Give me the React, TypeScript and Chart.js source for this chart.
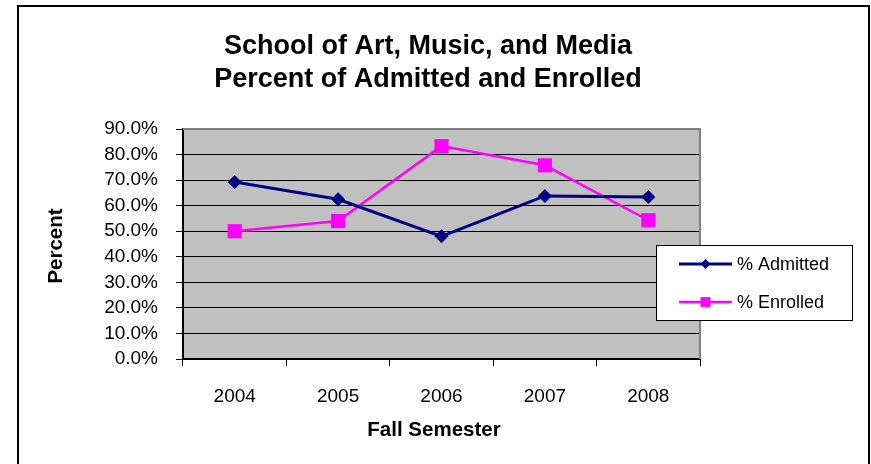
import React, { useEffect, useRef } from "react";
import { Chart, registerables } from "chart.js";

Chart.register(...registerables);

const categories = ["2004", "2005", "2006", "2007", "2008"];
const admitted = [69.3, 62.5, 48.0, 63.8, 63.4];
const enrolled = [50.0, 54.0, 83.3, 75.8, 54.3];
const titleLines = ["School of Art, Music, and Media", "Percent of Admitted and Enrolled"];
const xTitle = "Fall Semester";
const yTitle = "Percent";
const seriesNames = ["% Admitted", "% Enrolled"];

const NAVY = "#000080";
const MAGENTA = "#FF00FF";
const FONT = "'Liberation Sans', Arial, sans-serif";

function drawMarker(ctx: CanvasRenderingContext2D, style: string, x: number, y: number, r: number, color: string) {
  ctx.save();
  ctx.fillStyle = color;
  ctx.beginPath();
  if (style === "rectRot") {
    ctx.moveTo(x - r, y);
    ctx.lineTo(x, y - r);
    ctx.lineTo(x + r, y);
    ctx.lineTo(x, y + r);
    ctx.closePath();
  } else {
    const s = r * Math.SQRT1_2;
    ctx.rect(x - s, y - s, 2 * s, 2 * s);
  }
  ctx.fill();
  ctx.restore();
}

const decorPlugin = {
  id: "decor",
  beforeDraw(chart: any) {
    const { ctx, chartArea } = chart;
    ctx.save();
    ctx.fillStyle = "#ffffff";
    ctx.fillRect(0, 0, chart.width, chart.height);
    ctx.fillStyle = "#C0C0C0";
    ctx.fillRect(chartArea.left, chartArea.top, chartArea.right - chartArea.left, chartArea.bottom - chartArea.top);
    ctx.restore();
  },
  beforeDatasetsDraw(chart: any) {
    const { ctx, chartArea } = chart;
    ctx.save();
    ctx.strokeStyle = "#808080";
    ctx.lineWidth = 2;
    ctx.beginPath();
    ctx.moveTo(chartArea.left, chartArea.top);
    ctx.lineTo(chartArea.right, chartArea.top);
    ctx.lineTo(chartArea.right, chartArea.bottom);
    ctx.stroke();
    ctx.restore();
  },
  afterDraw(chart: any) {
    const { ctx, chartArea } = chart;
    ctx.save();
    // outer frame
    ctx.strokeStyle = "#000000";
    ctx.lineWidth = 2;
    ctx.strokeRect(18, 6, 851, 520);

    // title
    ctx.fillStyle = "#000000";
    ctx.textAlign = "center";
    ctx.textBaseline = "middle";
    ctx.font = `bold 27px ${FONT}`;
    ctx.fillText(titleLines[0], 428, 47);
    ctx.fillText(titleLines[1], 428, 80);

    // axis titles
    ctx.font = `bold 20.5px ${FONT}`;
    ctx.fillText(xTitle, 434, 430);
    ctx.save();
    ctx.translate(56, (chartArea.top + chartArea.bottom) / 2 + 2);
    ctx.rotate(-Math.PI / 2);
    ctx.fillText(yTitle, 0, 0);
    ctx.restore();

    // legend
    const lx = 656, ly = 245, lw = 196, lh = 75;
    ctx.fillStyle = "#ffffff";
    ctx.fillRect(lx, ly, lw, lh);
    ctx.strokeStyle = "#000000";
    ctx.lineWidth = 1;
    ctx.strokeRect(lx + 0.5, ly + 0.5, lw, lh);
    const rows = [264, 302];
    chart.data.datasets.forEach((ds: any, i: number) => {
      const y = rows[i];
      ctx.strokeStyle = ds.borderColor;
      ctx.lineWidth = ds.borderWidth;
      ctx.beginPath();
      ctx.moveTo(679, y);
      ctx.lineTo(732, y);
      ctx.stroke();
      drawMarker(ctx, ds.pointStyle, 705.5, y, ds.pointStyle === "rectRot" ? 5 : 7, ds.pointBackgroundColor);
      ctx.fillStyle = "#000000";
      ctx.textAlign = "left";
      ctx.textBaseline = "middle";
      ctx.font = `18px ${FONT}`;
      ctx.fillText(ds.label, 737, y + 1);
    });
    ctx.restore();
  },
};

export default function App() {
  const ref = useRef<HTMLCanvasElement>(null);
  useEffect(() => {
    if (!ref.current) return;
    const chart = new Chart(ref.current, {
      type: "line",
      data: {
        labels: categories,
        datasets: [
          {
            label: seriesNames[0],
            data: admitted,
            borderColor: NAVY,
            backgroundColor: NAVY,
            pointBackgroundColor: NAVY,
            pointBorderColor: NAVY,
            borderWidth: 3,
            pointStyle: "rectRot",
            pointRadius: 7,
            pointBorderWidth: 0,
            tension: 0,
          },
          {
            label: seriesNames[1],
            data: enrolled,
            borderColor: MAGENTA,
            backgroundColor: MAGENTA,
            pointBackgroundColor: MAGENTA,
            pointBorderColor: MAGENTA,
            borderWidth: 2.5,
            pointStyle: "rect",
            pointRadius: 10,
            pointBorderWidth: 0,
            tension: 0,
          },
        ],
      },
      options: {
        responsive: false,
        animation: false,
        devicePixelRatio: 1,
        layout: { padding: { left: 80, right: 171, top: 129, bottom: 45 } },
        plugins: { legend: { display: false }, title: { display: false }, tooltip: { enabled: false } },
        scales: {
          x: {
            type: "category",
            offset: true,
            grid: { offset: true, drawOnChartArea: false, drawTicks: true, tickLength: 7, color: "#000000", lineWidth: 1 },
            border: { display: true, color: "#000000", width: 2 },
            ticks: { color: "#000000", font: { family: FONT, size: 19 }, padding: 19, maxRotation: 0, autoSkip: false },
            afterFit(scale: any) {
              scale.height = 60;
            },
          },
          y: {
            min: 0,
            max: 90,
            grid: { color: "#000000", lineWidth: 1, drawTicks: true, tickLength: 7 },
            border: { display: true, color: "#000000", width: 2 },
            ticks: {
              stepSize: 10,
              autoSkip: false,
              color: "#000000",
              font: { family: FONT, size: 19 },
              padding: 18,
              callback: (v: any) => Number(v).toFixed(1) + "%",
            },
            afterFit(scale: any) {
              scale.width = 103;
            },
          },
        },
      },
      plugins: [decorPlugin],
    });
    return () => chart.destroy();
  }, []);
  return (
    <div style={{ position: "fixed", left: 0, top: 0, width: 871, height: 464 }}>
      <canvas ref={ref} width={871} height={464} style={{ display: "block", width: 871, height: 464 }} />
    </div>
  );
}
